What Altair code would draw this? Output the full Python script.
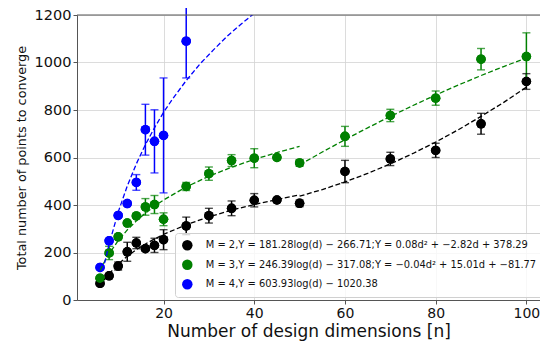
import altair as alt
import pandas as pd

# ---- data ----
dims = [6, 8, 10, 12, 14, 16, 18, 20, 25, 30, 35, 40, 45, 50, 60, 70, 80, 90, 100]
m2_vals = [70, 102, 143, 203, 240, 216, 230, 254, 312, 355, 386, 420, 421, 407, 541, 594, 630, 742, 920]
m2_errs = [6, 8, 17, 40, 24, 8, 30, 42, 37, 31, 31, 28, 10, 14, 47, 28, 30, 44, 33]
m3_vals = [92, 198, 266, 324, 354, 392, 402, 340, 478, 532, 587, 597, 600, 577, 689, 777, 850, 1014, 1025]
m3_errs = [6, 28, 10, 8, 8, 35, 38, 27, 17, 28, 25, 40, 8, 14, 42, 26, 30, 45, 100]
m4_dims = [6, 8, 10, 12, 14, 16, 18, 20, 25]
m4_vals = [137, 249, 356, 406, 495, 717, 668, 693, 1090]
m4_errs = [6, 8, 8, 8, 33, 107, 133, 242, 155]

# dashed fit curves
m2_fit1_x = [6, 7, 8, 10, 12, 14, 16, 18, 20, 25, 30, 35, 40, 45, 50]
m2_fit1_y = [58, 86, 110, 151, 184, 212, 236, 257, 276, 317, 350, 378, 402, 423, 443]
m2_fit2_x = [50, 55, 60, 65, 70, 75, 80, 85, 90, 95, 100]
m2_fit2_y = [437, 465, 497, 533, 573, 617, 665, 717, 773, 832, 896]
m3_fit1_x = [6, 7, 8, 10, 12, 14, 16, 18, 20, 25, 30, 35, 40, 45, 50]
m3_fit1_y = [124, 162, 195, 250, 295, 333, 366, 395, 421, 476, 521, 559, 592, 621, 647]
m3_fit2_x = [50, 55, 60, 65, 70, 75, 80, 85, 90, 95, 100]
m3_fit2_y = [569, 623, 675, 725, 773, 819, 863, 905, 945, 983, 1019]
m4_fit_x = [7, 8, 10, 12, 14, 16, 18, 20, 22, 25, 28, 31, 34, 37, 40]
m4_fit_y = [155, 235, 370, 480, 573, 654, 725, 790, 847, 924, 993, 1053, 1110, 1160, 1207]

lab2 = "M = 2,Y = 181.28log(d) − 266.71;Y = 0.08d² + −2.82d + 378.29"
lab3 = "M = 3,Y = 246.39log(d) − 317.08;Y = −0.04d² + 15.01d + −81.77"
lab4 = "M = 4,Y = 603.93log(d) − 1020.38"
labels = [lab2, lab3, lab4]
colors = ["#000000", "#008000", "#0000ff"]

x_ticks = [20, 40, 60, 80, 100]
y_ticks = [0, 200, 400, 600, 800, 1000, 1200]

# ---- tables ----
rows = []
for lab, xs, vs, es in [(lab2, dims, m2_vals, m2_errs), (lab3, dims, m3_vals, m3_errs),
                        (lab4, m4_dims, m4_vals, m4_errs)]:
    for x, v, e in zip(xs, vs, es):
        rows.append({"d": x, "v": v, "lo": v - e, "hi": v + e, "s": lab})
pts = pd.DataFrame(rows)

caps = pd.concat([
    pts[["d", "lo", "s"]].rename(columns={"lo": "v"}),
    pts[["d", "hi", "s"]].rename(columns={"hi": "v"}),
])

lrows = []
for lab, seg, xs, ys in [(lab2, "a2", m2_fit1_x, m2_fit1_y), (lab2, "b2", m2_fit2_x, m2_fit2_y),
                         (lab3, "a3", m3_fit1_x, m3_fit1_y), (lab3, "b3", m3_fit2_x, m3_fit2_y),
                         (lab4, "a4", m4_fit_x, m4_fit_y)]:
    for x, y in zip(xs, ys):
        lrows.append({"d": x, "v": y, "s": lab, "seg": seg})
fits = pd.DataFrame(lrows)

xscale = alt.Scale(domain=[0.92, 103.0], nice=False, zero=False)
yscale = alt.Scale(domain=[0, 1200], nice=False)
cscale = alt.Scale(domain=labels, range=colors)

font = "DejaVu Sans"

x_axis = alt.Axis(
    values=x_ticks, format="d", title="Number of design dimensions [n]", titleFontSize=17,
    titleFontWeight="normal", titlePadding=3, labelFontSize=14, labelPadding=2,
    tickSize=4, grid=True)
y_axis = alt.Axis(
    values=y_ticks, format="d", title="Total number of points to converge", titleFontSize=12.8,
    titleFontWeight="normal", titlePadding=6, labelFontSize=14.5, labelPadding=2,
    tickSize=4, grid=True)
legend = alt.Legend(
    title=None, orient="none", legendX=98, legendY=218, padding=6.8,
    fillColor="rgba(255,255,255,0.8)", strokeColor="#d0d0d0", cornerRadius=3,
    labelFont=font, labelFontSize=9.9, labelColor="#111111", labelLimit=1000,
    labelOffset=13, rowPadding=8.5, symbolSize=110, symbolType="circle",
    symbolStrokeWidth=0, symbolOpacity=1)


def X():
    return alt.X("d:Q", scale=xscale, axis=x_axis)


def Y(field="v"):
    return alt.Y(field + ":Q", scale=yscale, axis=y_axis)


def C():
    return alt.Color("s:N", scale=cscale, legend=legend)


rules = alt.Chart(pts).mark_rule(strokeWidth=1.5).encode(
    x=X(), y=Y("lo"), y2="hi:Q", color=C())

cap_marks = alt.Chart(caps).mark_tick(orient="horizontal", size=8, thickness=1.4).encode(
    x=X(), y=Y(), color=C())

points = alt.Chart(pts).mark_circle(size=90, opacity=1).encode(
    x=X(), y=Y(), color=C())

lines = alt.Chart(fits).mark_line(strokeDash=[5, 2.5], strokeWidth=1.3, clip=True).encode(
    x=X(), y=Y(), color=C(), detail="seg:N", order="d:Q")

# top spine of the axes frame, at the top of the value range
top_spine = alt.Chart(pd.DataFrame({"v": [y_ticks[-1]]})).mark_rule(
    color="#555555", strokeWidth=1).encode(y=Y())

chart = alt.layer(points, rules, cap_marks, points, lines, top_spine).properties(
    width=463, height=285,
    autosize=alt.AutoSizeParams(type="none"),
    padding={"left": 69, "top": 7, "right": 0, "bottom": 46},
    background="white",
).configure_view(stroke=None).configure_axis(
    labelFont=font, titleFont=font, labelColor="#111111", titleColor="#111111",
    domainColor="#555555", tickColor="#555555", gridColor="#d3d3d3", gridWidth=0.8,
)

chart.save("out.html", embed_options={"renderer": "svg", "actions": False})
